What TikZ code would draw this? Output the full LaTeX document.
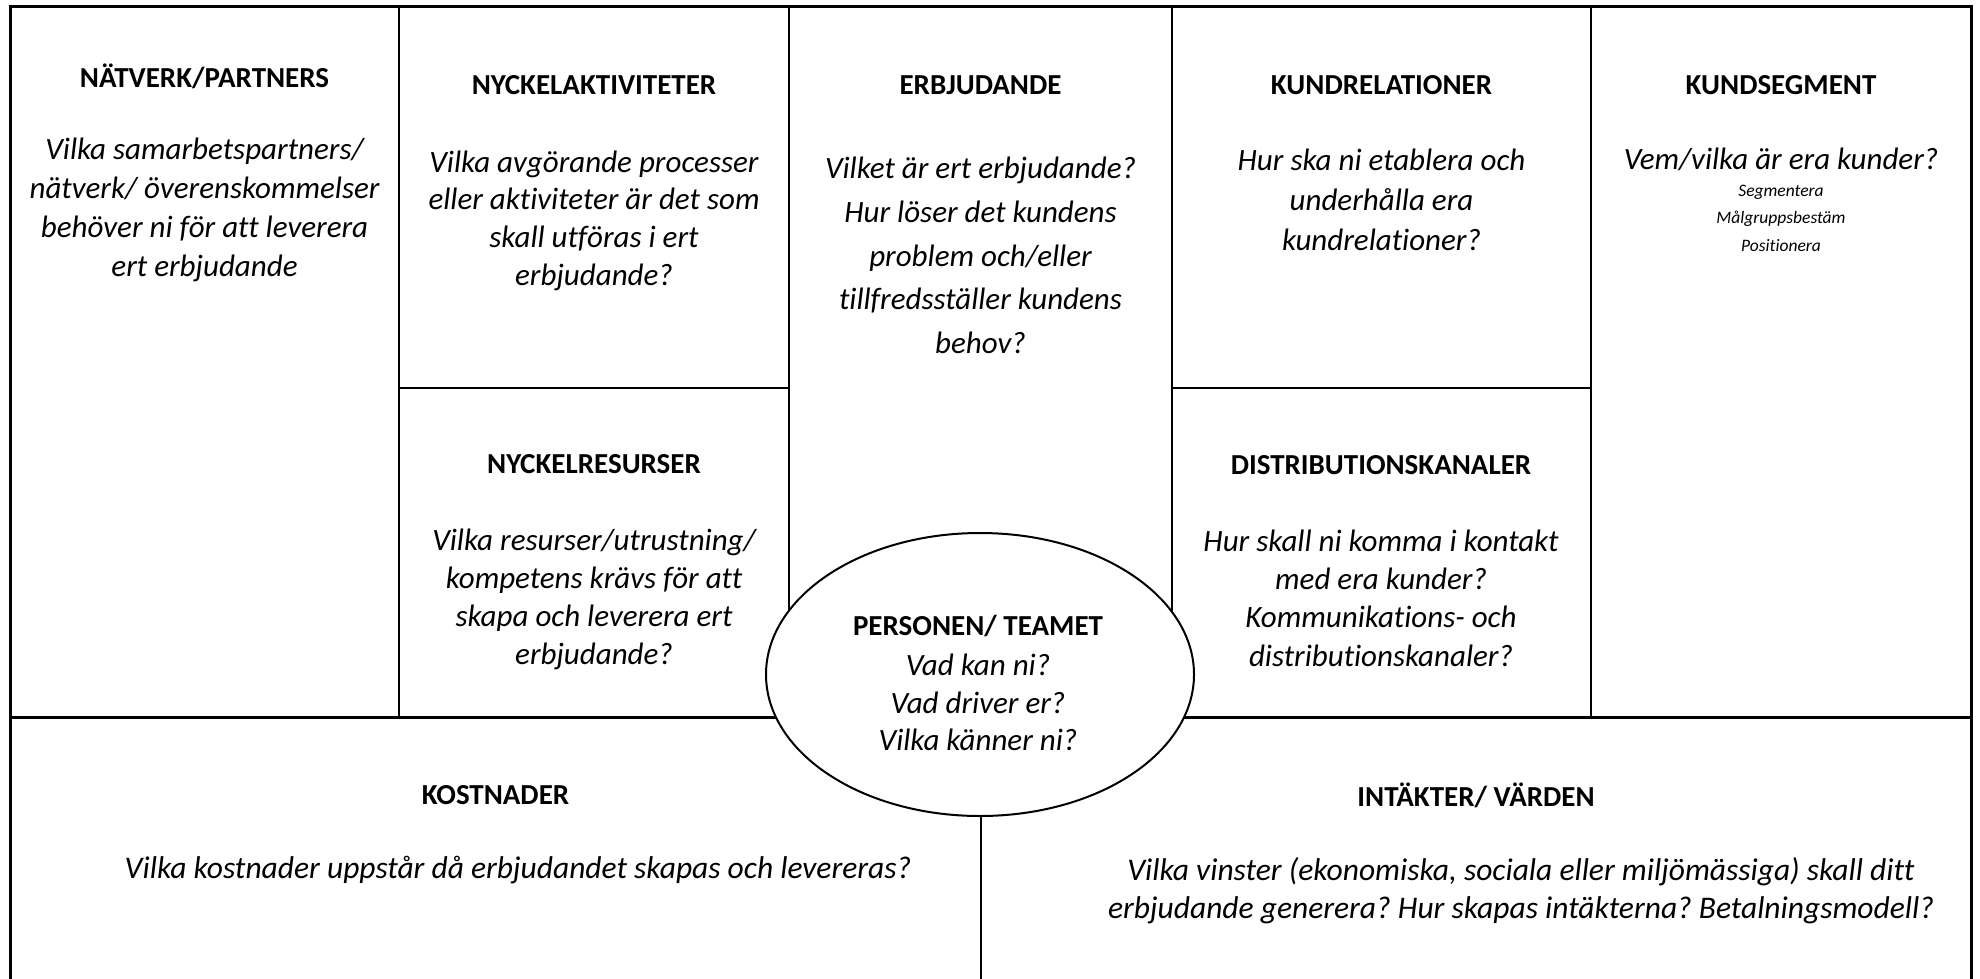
\documentclass[tikz,border=0pt]{standalone}
\usepackage{fontspec}
\setmainfont{Carlito}[Ligatures=NoCommon]
\usetikzlibrary{shapes.geometric}
\frenchspacing
\begin{document}
\begin{tikzpicture}[x=1pt,y=-1pt,
  head/.style={font=\bfseries\fontsize{29}{35}\selectfont, inner sep=0pt, align=center},
  body/.style={font=\itshape\fontsize{31}{#1}\selectfont, inner sep=0pt, align=center},
  body/.default=38.5,
  wide/.style={font=\itshape\fontsize{31.5}{38}\selectfont, inner sep=0pt, align=center},
  small/.style={font=\itshape\fontsize{17.5}{27.5}\selectfont, inner sep=0pt, align=center},
  frame/.style={line width=3pt},
  divider/.style={line width=2.3pt},
  oval/.style={ellipse, draw, line width=2pt, fill=white, minimum width=428pt, minimum height=283pt, inner sep=0pt}]
\useasboundingbox[fill=white] (0,0) rectangle (1980,979);
% outer frame
\draw[frame] (10,985) -- (10,7) -- (1971,7) -- (1971,985);
\draw[frame] (10,717) -- (1971,717);
% inner dividers
\draw[divider] (399,7) -- (399,717);
\draw[divider] (789,7) -- (789,717);
\draw[divider] (1172,7) -- (1172,717);
\draw[divider] (1591,7) -- (1591,717);
\draw[divider] (399,388) -- (789,388);
\draw[divider] (1172,388) -- (1591,388);
\draw[divider] (981,717) -- (981,985);
% centre ellipse
\node[oval] (team) at (980,674.5) {};
% texts
\node[head] (h1) at (204.5,76) {NÄTVERK/PARTNERS};
\node[body=39] (b1) at (204.5,210) {Vilka samarbetspartners/\\nätverk/ överenskommelser\\behöver ni för att leverera\\ert erbjudande};
\node[head] (h2) at (594,85) {NYCKELAKTIVITETER};
\node[body=37.7] (b2) at (594,220.5) {Vilka avgörande processer\\eller aktiviteter är det som\\skall utföras i ert\\erbjudande?};
\node[head] (h3) at (980.5,85) {ERBJUDANDE};
\node[body=43.7] (b3) at (980.5,255.5) {Vilket är ert erbjudande?\\Hur löser det kundens\\problem och/eller\\tillfredsställer kundens\\behov?};
\node[head] (h4) at (1381.5,85) {KUNDRELATIONER};
\node[body=40] (b4) at (1381.5,200) {Hur ska ni etablera och\\underhålla era\\kundrelationer?};
\node[head] (h5) at (1781,85) {KUNDSEGMENT};
\node[body] (b5) at (1781,159) {Vem/vilka är era kunder?};
\node[small] (s5) at (1781,218) {Segmentera\\Målgruppsbestäm\\Positionera};
\node[head] (h6) at (594,464) {NYCKELRESURSER};
\node[body=38] (b6) at (594,599.5) {Vilka resurser/utrustning/\\kompetens krävs för att\\skapa och leverera ert\\erbjudande?};
\node[head] (h7) at (1381,465) {DISTRIBUTIONSKANALER};
\node[body=38.3] (b7) at (1381,598) {Hur skall ni komma i kontakt\\med era kunder?\\Kommunikations- och\\distributionskanaler?};
\node[head] (h8) at (978,626) {PERSONEN/ TEAMET};
\node[body=37.5] (b8) at (978,702.5) {Vad kan ni?\\Vad driver er?\\Vilka känner ni?};
\node[head] (h9) at (495.5,795) {KOSTNADER};
\node[wide] (b9) at (518,870) {Vilka kostnader uppstår då erbjudandet skapas och levereras?};
\node[head] (h10) at (1476,795) {INTÄKTER/ VÄRDEN};
\node[wide] (b10) at (1521,891) {Vilka vinster (ekonomiska, sociala eller miljömässiga) skall ditt\\erbjudande generera? Hur skapas intäkterna? Betalningsmodell?};
\end{tikzpicture}
\end{document}
